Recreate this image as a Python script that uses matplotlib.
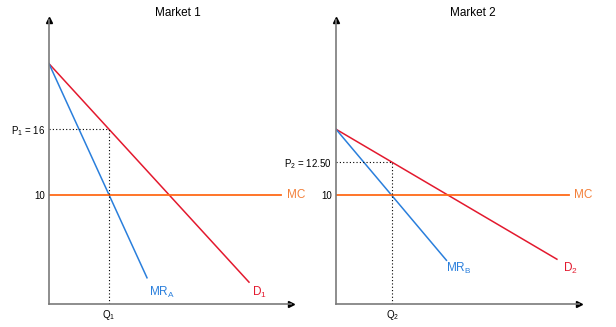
import matplotlib
matplotlib.use("Agg")
import matplotlib.pyplot as plt

plt.rcParams['font.family'] = ['Liberation Sans', 'DejaVu Sans']
plt.rcParams['mathtext.fontset'] = 'custom'
plt.rcParams['mathtext.rm'] = 'Liberation Sans'
plt.rcParams['mathtext.it'] = 'Liberation Sans'
plt.rcParams['mathtext.default'] = 'regular'

# market 1 (quantity, price endpoints)
d1_q = [0, 20]
d1_p = [22, 2]
mr1_q = [0, 9.8]
mr1_p = [22, 2.4]
mc = 10
q1 = 6
p1 = 16

# market 2
d2_q = [0, 22]
d2_p = [16, 4.1]
mr2_q = [0, 11]
mr2_p = [16, 4.0]
q2 = 5.6
p2 = 13  # drawn position of the "12.50" mark

red = '#e3192e'
blue = '#2a7fdc'
orange = '#ff6a18'
mc_txt = '#f3803a'

fig = plt.figure(figsize=(6.16, 3.27), dpi=100)
ax1 = fig.add_axes([49/616, 23/327, 242/616, 284/327])
ax2 = fig.add_axes([336/616, 23/327, 243/616, 284/327])


def setup(ax, title, tx):
    ax.set_xlim(0, 24.2)
    ax.set_ylim(0, 26)
    for s in ['top', 'right']:
        ax.spines[s].set_visible(False)
    for s in ['left', 'bottom']:
        ax.spines[s].set_color('#7a7a7a')
        ax.spines[s].set_linewidth(1.2)
    ax.plot(1, 0, '>', color='black', ms=4, transform=ax.transAxes, clip_on=False)
    ax.plot(0, 1, '^', color='black', ms=4, transform=ax.transAxes, clip_on=False)
    ax.tick_params(length=0, labelsize=7, pad=3)
    ax.text(tx, 26.6, title, fontsize=8.5, ha='center', va='center')


setup(ax1, 'Market 1', 12.9)
setup(ax2, 'Market 2', 13.6)

# market 1
ax1.plot(d1_q, d1_p, color=red, lw=1.1)
ax1.plot(mr1_q, mr1_p, color=blue, lw=1.1)
ax1.plot([0, 23.2], [mc, mc], color=orange, lw=1.3)
ax1.plot([0, q1], [p1, p1], color='black', lw=0.8, ls=(0, (1, 2)))
ax1.plot([q1, q1], [0, p1], color='black', lw=0.8, ls=(0, (1, 2)))
ax1.set_xticks([q1], ['Q$_1$'])
ax1.set_yticks([mc, p1], ['10', 'P$_1$ = 16'])
ax1.text(10.0, 1.1, 'MR$_A$', color=blue, fontsize=8.5, va='center')
ax1.text(20.3, 1.1, 'D$_1$', color=red, fontsize=8.5, va='center')
ax1.text(23.8, mc, 'MC', color=mc_txt, fontsize=8.5, va='center')

# market 2
ax2.plot(d2_q, d2_p, color=red, lw=1.1)
ax2.plot(mr2_q, mr2_p, color=blue, lw=1.1)
ax2.plot([0, 23.2], [mc, mc], color=orange, lw=1.3)
ax2.plot([0, q2], [p2, p2], color='black', lw=0.8, ls=(0, (1, 2)))
ax2.plot([q2, q2], [0, p2], color='black', lw=0.8, ls=(0, (1, 2)))
ax2.set_xticks([q2], ['Q$_2$'])
ax2.set_yticks([mc, p2], ['10', 'P$_2$ = 12.50'])
ax2.text(11.0, 3.3, 'MR$_B$', color=blue, fontsize=8.5, va='center')
ax2.text(22.6, 3.3, 'D$_2$', color=red, fontsize=8.5, va='center')
ax2.text(23.7, mc, 'MC', color=mc_txt, fontsize=8.5, va='center')

fig.savefig('out.png', dpi=100)
